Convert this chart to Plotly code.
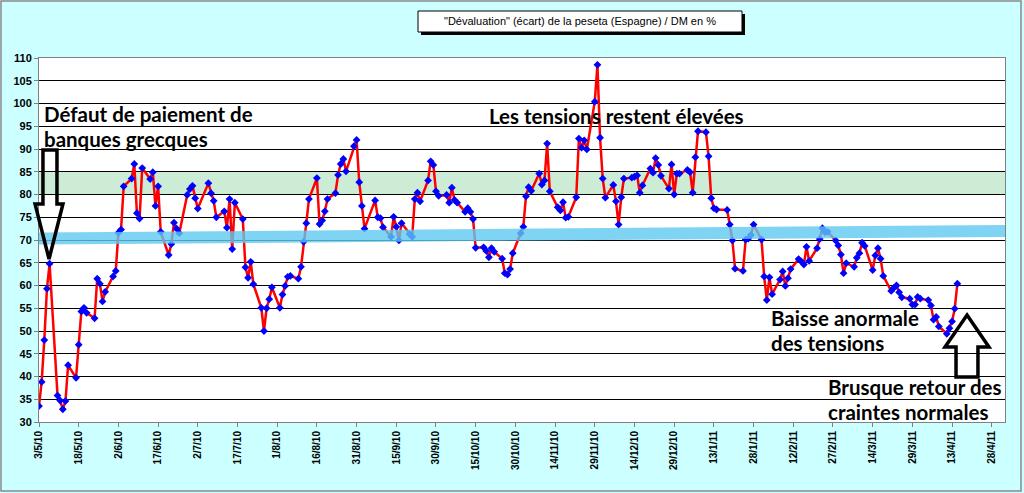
import pandas as pd
import plotly.graph_objects as go

# "Dévaluation" (écart) peseta / DM en %, valeurs lues jour ouvré par jour ouvré
mai_10 = [33.5, 38.8, 48.0, 59.3, 64.8, 35.8, 34.7, 32.8, 34.6, 42.5, 39.7, 47.0, 54.3, 55.1, 54.0,
          52.8, 61.5, 60.4, 56.5, 58.6, 62.0]
juin_10 = [63.2, 71.6, 72.3, 81.8, 83.5, 86.7, 75.9, 74.7, 85.8, 83.4, 84.9, 77.5, 81.8, 71.8,
           66.7, 69.1, 73.8, 72.5, 71.5, 79.9, 81.2, 81.9]
juil_10 = [79.2, 76.9, 82.5, 80.3, 78.6, 75.0, 76.3, 72.7, 79.0, 68.0, 78.2, 74.6, 64.0, 61.7, 65.2,
           60.3, 55.1, 50.0, 55.0, 57.0, 59.6]
aout_10 = [55.1, 58.0, 59.9, 61.9, 62.1, 61.5, 64.1, 69.6, 73.7, 79.0, 83.6, 73.5, 74.3, 76.3, 79.0,
           80.3, 84.3, 86.7, 87.8, 85.1, 90.6, 92.0]
sept_10 = [82.7, 77.5, 72.5, 78.7, 75.0, 74.8, 72.8, 70.7, 75.1, 72.9, 69.9, 73.7, 71.3, 70.7, 79.0,
           80.4, 78.5, 83.1, 87.3, 86.5, 80.7]
oct_10 = [79.7, 79.9, 78.2, 81.5, 78.8, 78.2, 76.2, 77.0, 76.2, 74.6, 68.3, 68.4, 67.6, 66.2, 68.2,
          67.4, 65.9, 62.7, 62.4, 63.6, 67.1]
nov_10 = [71.5, 72.9, 79.6, 81.6, 80.8, 84.6, 82.2, 83.1, 91.2, 80.7, 77.2, 76.5, 78.3, 74.9, 75.1,
          79.4, 92.3, 90.3, 91.9, 89.9, 100.4, 108.5]
dec_10 = [92.5, 83.5, 79.3, 82.1, 78.5, 73.4, 79.4, 83.5, 83.7, 83.9, 84.2, 80.4, 82.0, 85.7, 84.8,
          88.0, 86.5, 84.1, 81.3, 86.6, 80.0, 84.6, 84.6]
janv_11 = [85.4, 84.9, 80.4, 88.2, 93.9, 93.7, 88.4, 79.2, 77.0, 76.7, 76.6, 73.4, 69.9, 63.7,
           63.2, 70.1, 70.3, 71.1, 73.4, 70.1]
fev_11 = [62.0, 56.8, 61.8, 58.1, 61.3, 63.1, 59.9, 61.6, 63.6, 65.8, 65.3, 64.6, 68.5, 65.4,
          68.2, 70.2, 72.6, 71.7, 71.8, 69.9]
mars_11 = [68.8, 66.8, 62.7, 64.9, 64.1, 66.1, 67.1, 69.4, 68.7, 63.4, 66.6, 68.2, 65.9, 62.1,
           58.8, 59.5, 60.0, 58.5, 57.4, 57.1, 55.8, 55.8, 57.5]
avr_11 = [57.1, 56.8, 55.6, 52.5, 53.1, 51.0, 49.4, 50.6, 52.1, 54.9, 60.4]

jours_absents = ["2010-07-05", "2010-09-06", "2011-01-17"]

ecart = mai_10 + juin_10 + juil_10 + aout_10 + sept_10 + oct_10 + nov_10 + dec_10 + janv_11 + fev_11 + mars_11 + avr_11
dates = pd.bdate_range("2010-05-03", "2011-04-15")
dates = dates[~dates.isin(pd.to_datetime(jours_absents))]
dates = dates[:len(ecart)]

titre = '"Dévaluation" (écart) de la peseta (Espagne) / DM en %'

# marges choisies pour que la zone de tracé tombe sur celle de l'image
W, H = 1024, 493
ML, MR, MT, MB = 39, 19, 58, 71
PW, PH = W - ML - MR, H - MT - MB

def px(x, y):
    return (x - ML) / PW, (H - MB - y) / PH

def chemin(points):
    pts = [px(x, y) for x, y in points]
    return "M " + " L ".join("%.4f,%.4f" % p for p in pts) + " Z"

def boite(x0, y0, x1, y1, **kw):
    a, b = px(x0, y1)
    c, d = px(x1, y0)
    fig.add_shape(type="rect", xref="paper", yref="paper", x0=a, y0=b, x1=c, y1=d, **kw)

fig = go.Figure()
fig.add_trace(go.Scatter(x=dates, y=ecart, mode="lines+markers",
                         line=dict(color="#ff0000", width=2.5),
                         marker=dict(color="#0000ff", size=6, symbol="diamond"),
                         showlegend=False))

# zone verte 80-85
fig.add_shape(type="rect", xref="paper", yref="y", x0=0, x1=1, y0=80, y1=85,
              fillcolor="rgb(204,236,214)", line_width=0, layer="below")
# bande bleue
fig.add_shape(type="line", xref="x", yref="y", x0="2010-05-02", x1="2011-05-03", y0=70.3, y1=72.0,
              line=dict(color="rgba(95,200,240,0.8)", width=12), layer="above")

# flèches
fleche_bas = [(43, 150), (57, 150), (57, 204), (63, 204), (49, 259), (35, 204), (43, 204)]
fleche_haut = [(967, 315), (989, 347), (978, 347), (978, 377), (956, 377), (956, 347), (945, 347)]
for f in [fleche_bas, fleche_haut]:
    fig.add_shape(type="path", xref="paper", yref="paper", path=chemin(f),
                  line=dict(color="black", width=3.5), fillcolor="rgba(0,0,0,0)", layer="above")

# cadre général
boite(1, 1, 1021, 491, line=dict(color="#8a8a8a", width=1.5))

# cadre du titre avec ombre
boite(421, 14, 745, 35, fillcolor="black", line_width=0)
boite(418, 11, 742, 32, fillcolor="white", line=dict(color="black", width=1))
xt, yt = px(580, 21.5)
fig.add_annotation(text=titre, xref="paper", yref="paper", x=xt, y=yt, yanchor="middle",
                   showarrow=False, font=dict(family="Liberation Sans, Arial", size=11, color="black"))

gros = dict(family="Lato, Noto Sans, sans-serif", size=20.5, color="black")
textes = [
    ("<b>Défaut de paiement de</b>", 42, 114),
    ("<b>banques grecques</b>", 42, 139),
    ("<b>Les tensions restent élevées</b>", 487, 116),
    ("<b>Baisse anormale</b>", 769, 318),
    ("<b>des tensions</b>", 769, 343),
    ("<b>Brusque retour des</b>", 826, 387),
    ("<b>craintes normales</b>", 826, 412),
]
for t, x, y in textes:
    xp, yp = px(x, y)
    fig.add_annotation(text=t, xref="paper", yref="paper", x=xp, y=yp, xanchor="left", yanchor="middle",
                       showarrow=False, font=gros)

fig.update_layout(
    width=W, height=H,
    margin=dict(l=ML, r=MR, t=MT, b=MB, autoexpand=False),
    paper_bgcolor="#ccffff", plot_bgcolor="white",
    font=dict(family="Liberation Sans, Arial", size=10, color="black"),
)
fig.update_xaxes(type="date", range=["2010-05-03", "2011-05-03"],
                 tick0="2010-05-03", dtick=15 * 86400000, tickformat="%-d/%-m/%y",
                 tickangle=-90, ticks="outside", ticklen=4, tickcolor="#808080",
                 tickfont=dict(family="Liberation Sans, Arial", size=10, color="black", weight="bold"),
                 showgrid=False, showline=True, linecolor="#808080", mirror=True, zeroline=False)
fig.update_yaxes(range=[30, 110], dtick=5, ticks="outside", ticklen=4, tickcolor="#808080",
                 tickfont=dict(family="Liberation Sans, Arial", size=11, color="black", weight="bold"),
                 showgrid=True, gridcolor="black", gridwidth=1,
                 showline=True, linecolor="#808080", mirror=True, zeroline=False)

# la page a par défaut une marge de 8 px autour du graphique
fig.write_html("out.html", config={"displayModeBar": False},
               post_script="document.body.style.margin='0';")
